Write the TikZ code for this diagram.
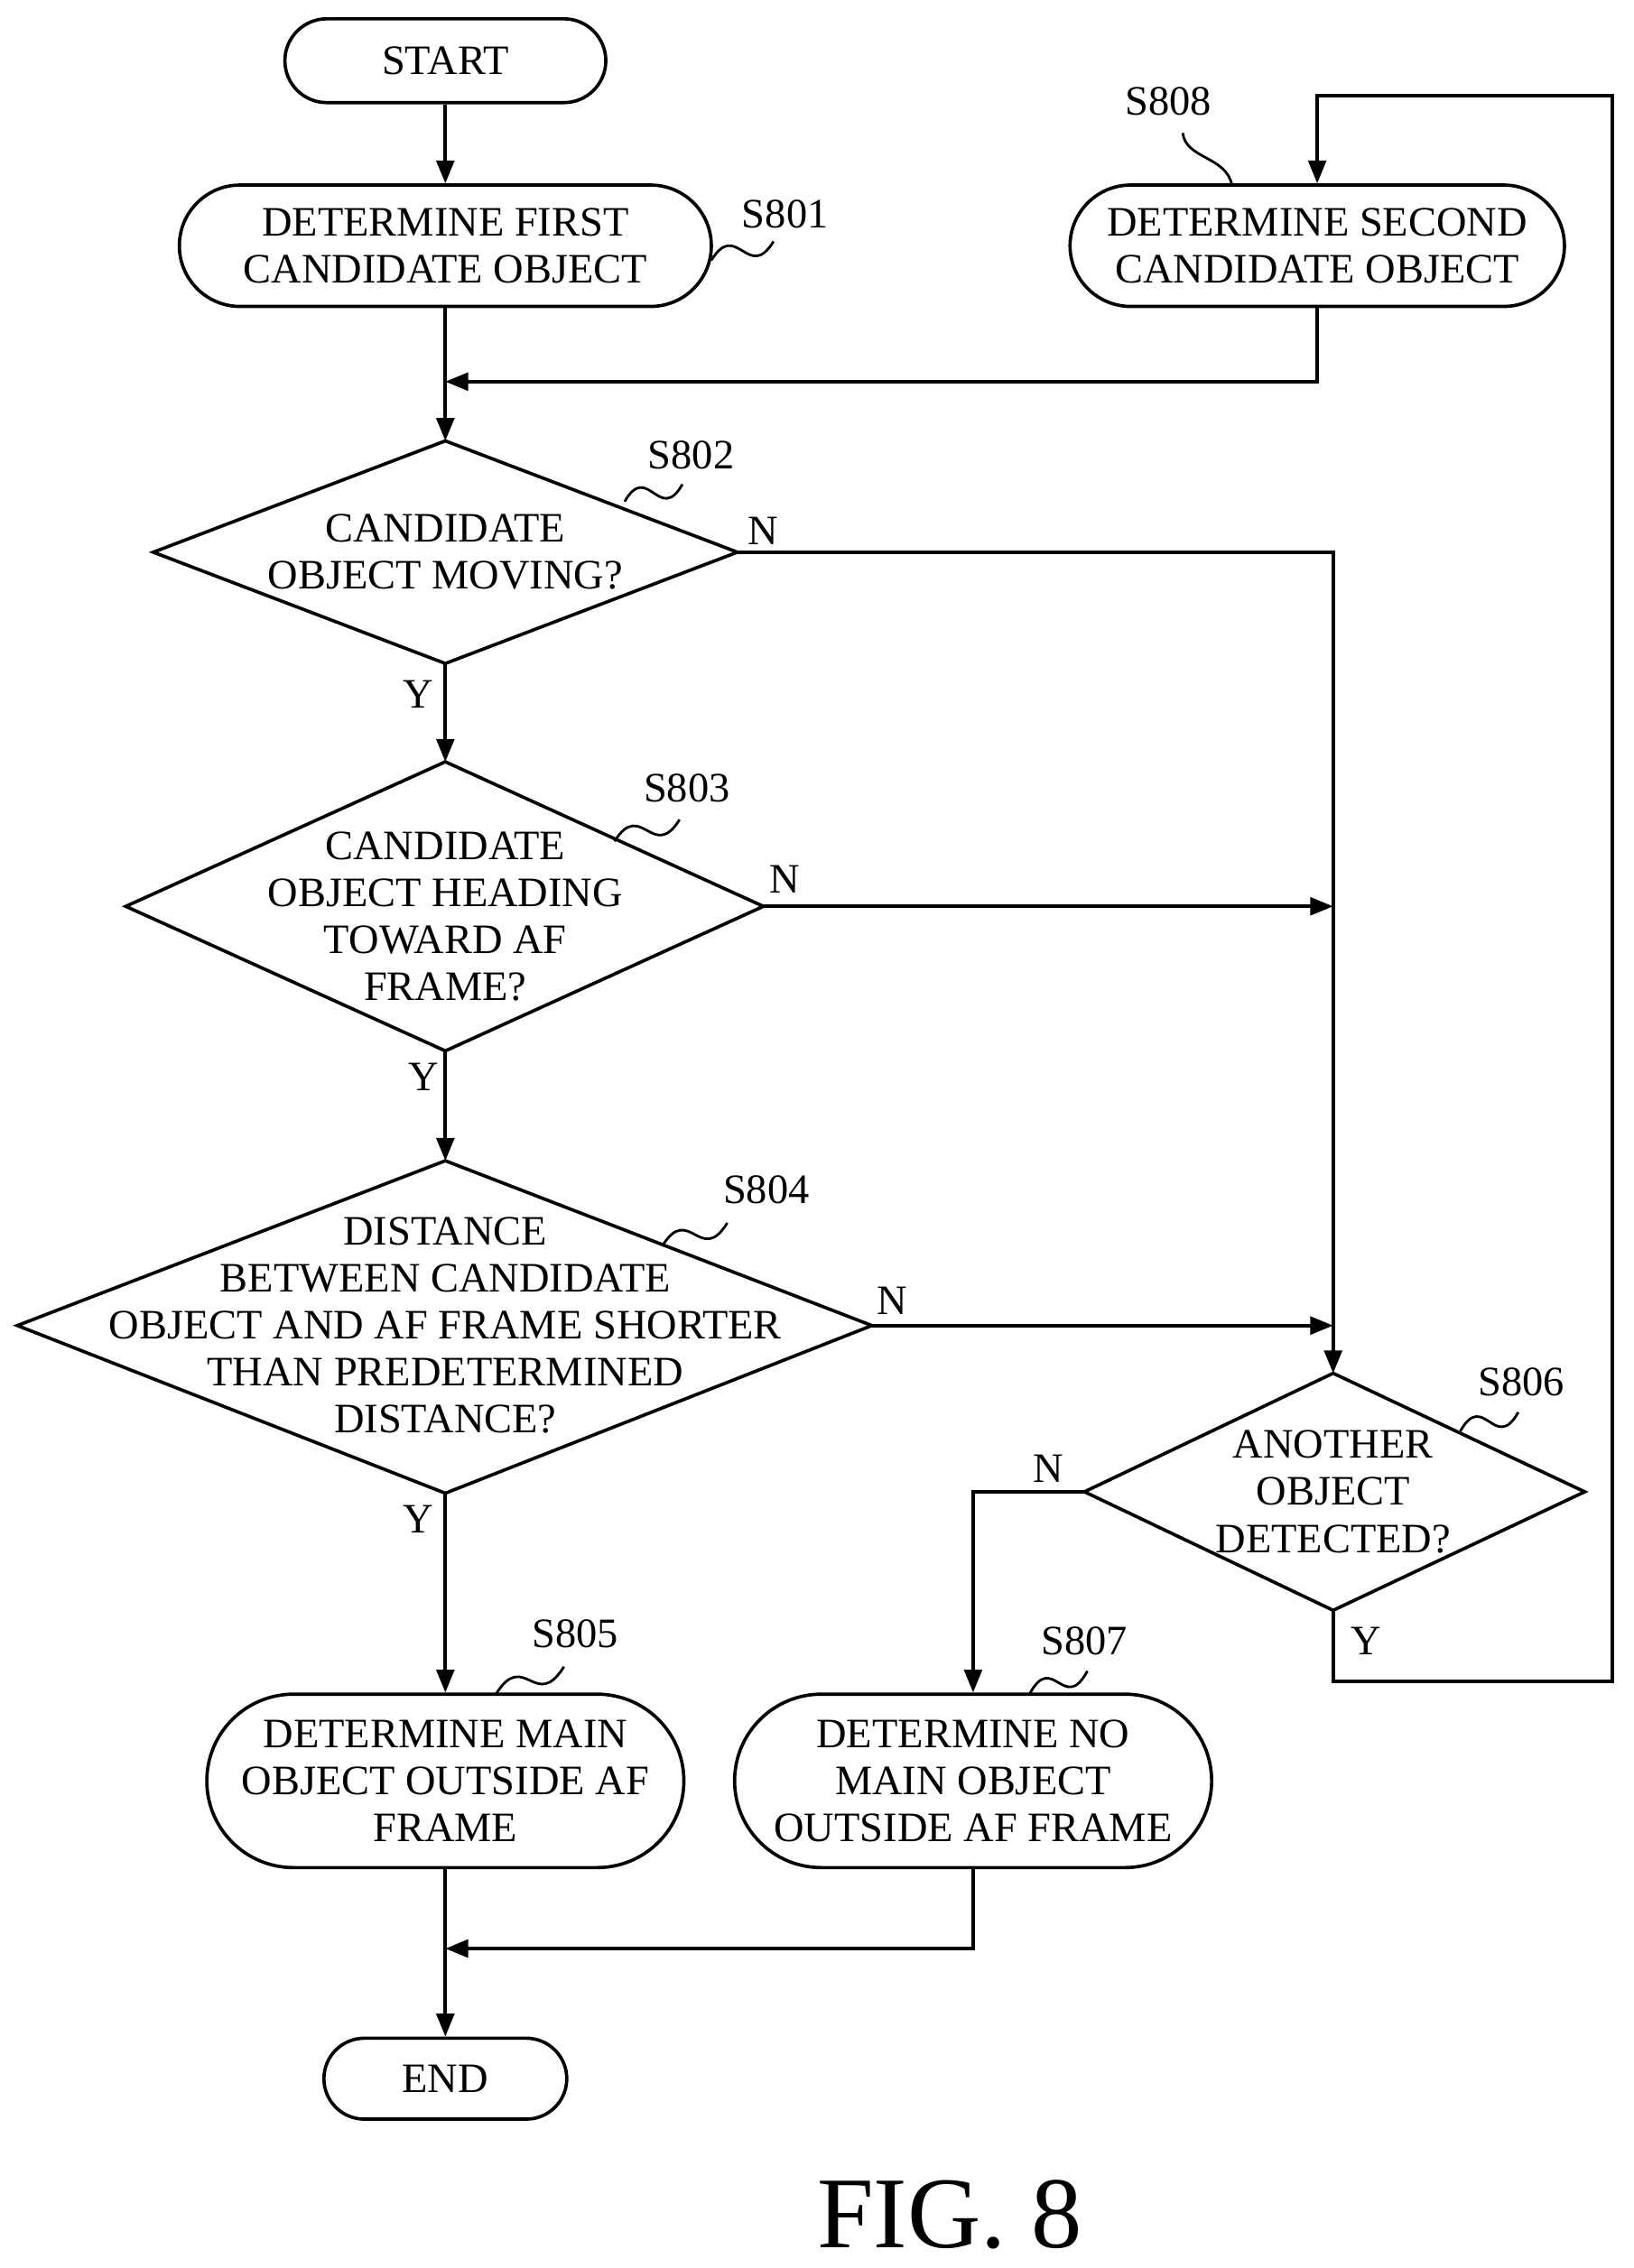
\documentclass[tikz,border=0pt]{standalone}
\usepackage{fontspec}
\setmainfont{Liberation Serif}
\usetikzlibrary{arrows.meta,calc}
\begin{document}
\begin{tikzpicture}[x=0.02cm,y=-0.02cm,
  every node/.style={font=\fontsize{16.5}{18.5}\selectfont,align=center},
  term/.style={draw,line width=1.3pt,rounded corners=#1,inner sep=0pt},
  line/.style={line width=1.3pt},
  arr/.style={line width=1.3pt,-{Triangle[length=9pt,width=7pt]}},
  lab/.style={font=\fontsize{16.5}{18.5}\selectfont},
  sq/.style={line width=1pt}]
\useasboundingbox (0,0) rectangle (1130,1569);
% terminals / process boxes
\node[term=0.58cm,minimum width=4.44cm,minimum height=1.16cm] (start) at (308,42) {START};
\node[term=0.84cm,minimum width=7.36cm,minimum height=1.68cm] (s801) at (308,170) {DETERMINE FIRST\\CANDIDATE OBJECT};
\node[term=0.84cm,minimum width=6.84cm,minimum height=1.68cm] (s808) at (911,170) {DETERMINE SECOND\\CANDIDATE OBJECT};
\node[term=1.2cm,minimum width=6.6cm,minimum height=2.4cm] (s805) at (308,1232) {DETERMINE MAIN\\OBJECT OUTSIDE AF\\FRAME};
\node[term=1.2cm,minimum width=6.6cm,minimum height=2.4cm] (s807) at (673,1232) {DETERMINE NO\\MAIN OBJECT\\OUTSIDE AF FRAME};
\node[term=0.56cm,minimum width=3.36cm,minimum height=1.12cm] (end) at (308,1438) {END};
% diamonds
\coordinate (d2t) at (308,305); \coordinate (d2b) at (308,459); \coordinate (d2l) at (106,382); \coordinate (d2r) at (510,382);
\draw[line] (d2t)--(d2r)--(d2b)--(d2l)--cycle;
\node (d2) at (308,382) {CANDIDATE\\OBJECT MOVING?};
\coordinate (d3t) at (308,527); \coordinate (d3b) at (308,727); \coordinate (d3l) at (87,627); \coordinate (d3r) at (528,627);
\draw[line] (d3t)--(d3r)--(d3b)--(d3l)--cycle;
\node (d3) at (308,634) {CANDIDATE\\OBJECT HEADING\\TOWARD AF\\FRAME?};
\coordinate (d4t) at (308,803); \coordinate (d4b) at (308,1033); \coordinate (d4l) at (12,917); \coordinate (d4r) at (603,917);
\draw[line] (d4t)--(d4r)--(d4b)--(d4l)--cycle;
\node (d4) at (308,917) {DISTANCE\\BETWEEN CANDIDATE\\OBJECT AND AF FRAME SHORTER\\THAN PREDETERMINED\\DISTANCE?};
\coordinate (d6t) at (922,950); \coordinate (d6b) at (922,1114); \coordinate (d6l) at (750,1032); \coordinate (d6r) at (1096,1032);
\draw[line] (d6t)--(d6r)--(d6b)--(d6l)--cycle;
\node (d6) at (922,1032) {ANOTHER\\OBJECT\\DETECTED?};
% junction coordinates
\coordinate (j1) at (308,264); \coordinate (j1r) at (911,264);
\coordinate (n2) at (922,382); \coordinate (n3) at (922,627); \coordinate (n4) at (922,917);
\coordinate (n6) at (673,1032);
\coordinate (y6a) at (922,1163); \coordinate (y6b) at (1115,1163); \coordinate (y6c) at (1115,66); \coordinate (y6d) at (911,66);
\coordinate (j2) at (308,1348); \coordinate (j2r) at (673,1348);
% connectors
\draw[arr] (start)--(s801);
\draw[arr] (s801)--(d2t);
\draw[arr] (s808.south)--(j1r)--(j1);
\draw[arr] (d2b)--(d3t);
\draw[arr] (d3b)--(d4t);
\draw[arr] (d4b)--(s805);
\draw[arr] (d2r)--(n2)--(d6t);
\draw[arr] (d3r)--(n3);
\draw[arr] (d4r)--(n4);
\draw[arr] (d6l)--(n6)--(s807.north);
\draw[arr] (d6b)--(y6a)--(y6b)--(y6c)--(y6d)--(s808.north);
\draw[arr] (s805)--(end);
\draw[arr] (s807.south)--(j2r)--(j2);
% Y/N labels
\node[lab] (y2) at (289,480) {Y};
\node[lab] (y3) at (293,745) {Y};
\node[lab] (y4) at (289,1051) {Y};
\node[lab] (y6) at (945,1135) {Y};
\node[lab] (nn2) at (528,367) {N};
\node[lab] (nn3) at (543,608) {N};
\node[lab] (nn4) at (617,900) {N};
\node[lab] (nn6) at (725,1016) {N};
% step labels with squiggles
\node[lab] (l801) at (543,148) {S801};
\node[lab] (l802) at (478,315) {S802};
\node[lab] (l803) at (475,545) {S803};
\node[lab] (l804) at (530,823) {S804};
\node[lab] (l805) at (398,1130) {S805};
\node[lab] (l806) at (1052,956) {S806};
\node[lab] (l807) at (750,1135) {S807};
\node[lab] (l808) at (808,70) {S808};
\coordinate (a1) at (492,180); \coordinate (b1) at (535,167);
\coordinate (a2) at (432,347); \coordinate (b2) at (472,335);
\coordinate (a3) at (425,582); \coordinate (b3) at (470,567);
\coordinate (a4) at (458,862); \coordinate (b4) at (503,846);
\coordinate (a5) at (343,1172); \coordinate (b5) at (390,1153);
\coordinate (a6) at (1010,990); \coordinate (b6) at (1050,977);
\coordinate (a7) at (712,1172); \coordinate (b7) at (752,1156);
\coordinate (a8) at (852,128); \coordinate (b8) at (818,92);
\foreach \i in {1,...,7}{
  \draw[sq] (a\i) .. controls ($(a\i)!0.5!(b\i)+(-4,-22)$) and ($(a\i)!0.5!(b\i)+(4,22)$) .. (b\i);
}
\draw[sq] (a8) .. controls (848,108) and (820,110) .. (b8);
\node[font=\fontsize{40}{44}\selectfont] (fig) at (657,1532) {FIG. 8};
\end{tikzpicture}
\end{document}
